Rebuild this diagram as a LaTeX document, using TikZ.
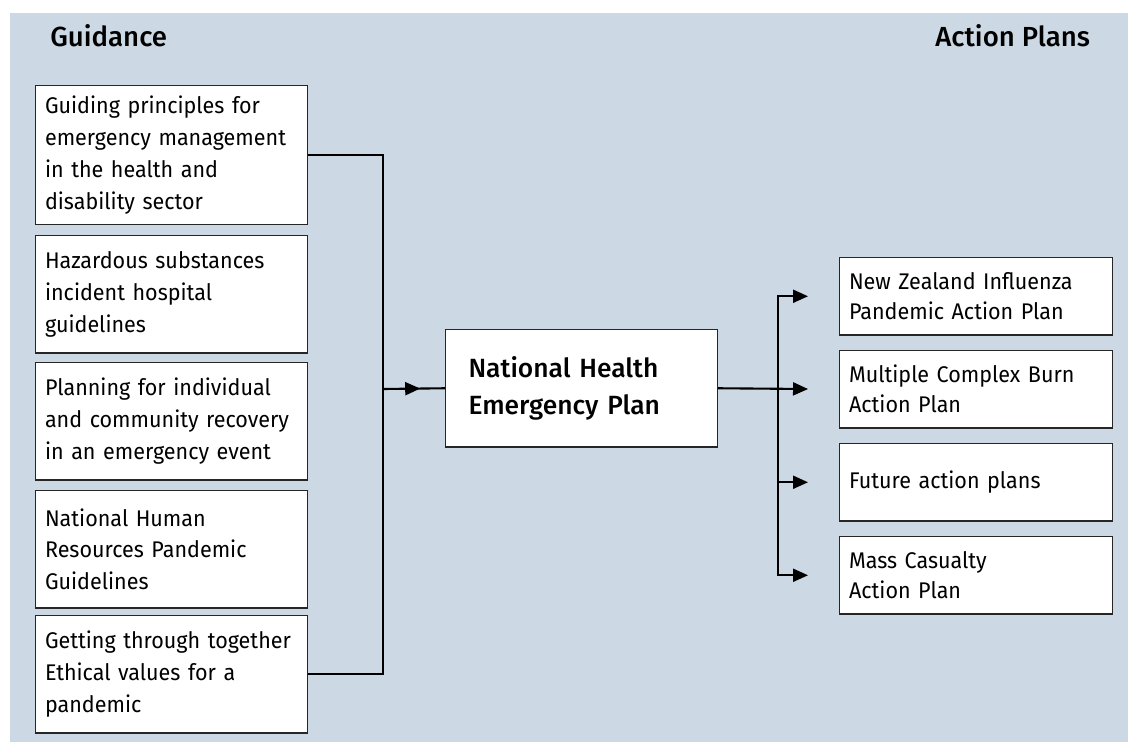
\documentclass[tikz,border=0pt]{standalone}
\usepackage{fontspec}
\setmainfont{Fira Sans}[BoldFont={Fira Sans Medium}]
\newfontfamily\boxfont{Fira Sans}[FakeStretch=0.95]
\usetikzlibrary{arrows.meta}
\usetikzlibrary{decorations.markings}

\definecolor{panelblue}{RGB}{204,216,227}

\begin{document}
\begin{tikzpicture}[x=0.02cm,y=-0.02cm,
    guide/.style={draw=black!85,line width=0.6pt,fill=white,anchor=north west,
        minimum width=5.44cm,text width=5.06cm,inner xsep=0.19cm,align=left,
        minimum height=2.35cm,font=\boxfont\fontsize{12.9}{18.1}\selectfont},
    plan/.style={guide,minimum width=5.46cm,text width=5.08cm,minimum height=1.55cm,
        font=\boxfont\fontsize{12.9}{17.1}\selectfont},
    heading/.style={anchor=base west,inner sep=0pt,font=\fontsize{15.7}{19}\selectfont\bfseries},
    link/.style={line width=1.2pt},
    tip/.style={link,-{Triangle[length=0.3cm,width=0.26cm]},shorten >=0.62cm},
    decoration={markings,
        mark=at position 0.6 with {\arrow{Triangle[length=0.3cm,width=0.26cm]}}}]

    \useasboundingbox (0,0) rectangle (1128,742);
    \fill[panelblue] (10,13) rectangle (1128,742);

    \node[heading] (guidance) at (50,47) {Guidance};
    \node[heading] (actionplans) at (935,47) {Action Plans};

    % guidance documents
    \node[guide,minimum height=2.78cm] (g1) at (35,85)
        {Guiding principles for\\emergency management\\in the health and\\disability sector};
    \node[guide] (g2) at (35,235) {Hazardous substances\\incident hospital\\guidelines};
    \node[guide] (g3) at (35,362) {Planning for individual\\and community recovery\\in an emergency event};
    \node[guide] (g4) at (35,490) {National Human\\Resources Pandemic\\Guidelines};
    \node[guide] (g5) at (35,615) {Getting through together\\Ethical values for a\\pandemic};

    \node[guide,text width=4.52cm,inner xsep=0.46cm,
        font=\fontsize{15}{20.9}\selectfont\bfseries] (nhep) at (445,329)
        {National Health\\Emergency Plan};

    % action plans
    \node[plan] (a1) at (839,257) {New Zealand Influenza\\Pandemic Action Plan};
    \node[plan] (a2) at (839,350) {Multiple Complex Burn\\Action Plan};
    \node[plan] (a3) at (839,443) {Future action plans};
    \node[plan] (a4) at (839,536) {Mass Casualty\\Action Plan};

    \coordinate (lbus) at (383,389);
    \coordinate (rbus) at (778,389);

    \draw[link] (g1.east) -| (lbus) |- (g5.east);
    \draw[link,postaction={decorate}] (lbus) -- (nhep.west);
    \draw[tip] (nhep.east) -- (a2.west);
    \foreach \p in {a1,a3,a4} {
        \draw[tip] (rbus) |- (\p.west);
    }
\end{tikzpicture}
\end{document}
